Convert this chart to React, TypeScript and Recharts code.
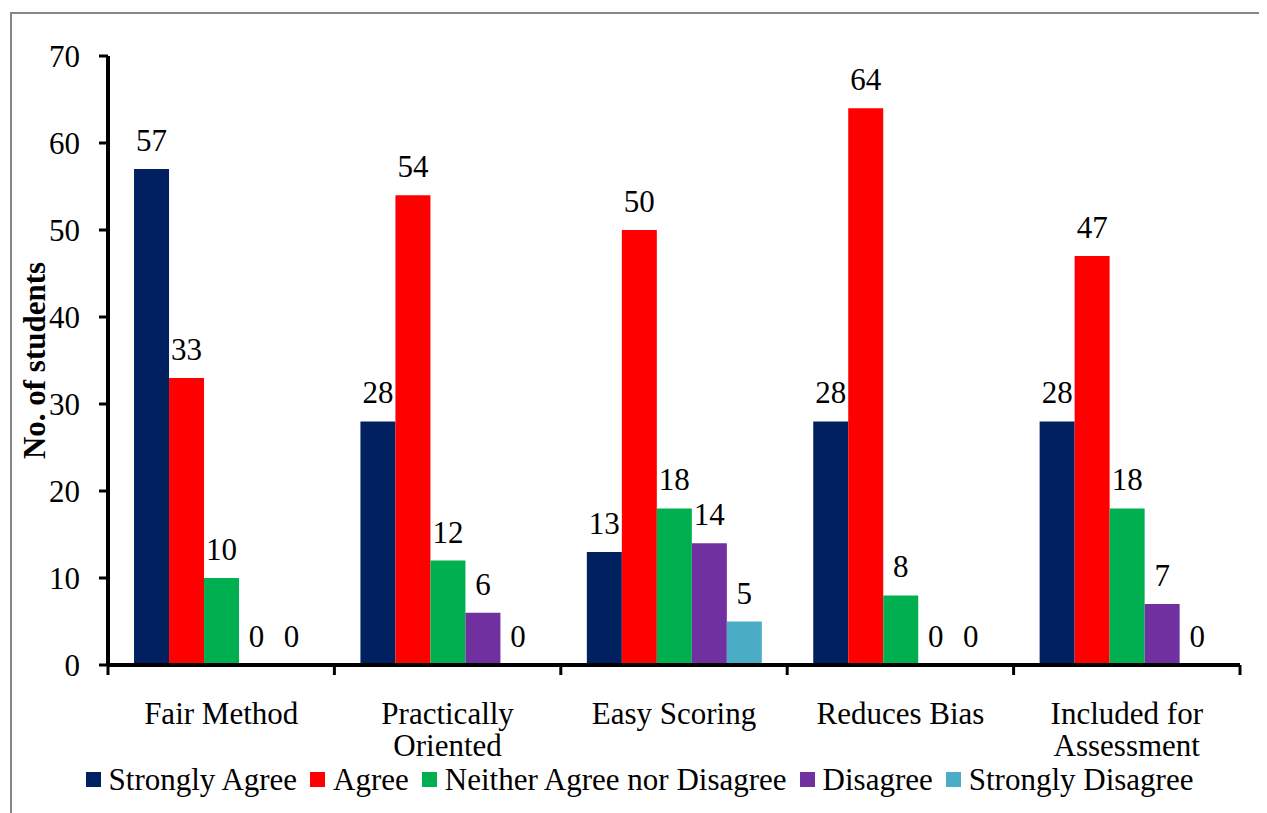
import React from 'react';
import { BarChart, Bar, XAxis, YAxis, Legend, LabelList } from 'recharts';

const categories = ['Fair Method', 'Practically\nOriented', 'Easy Scoring', 'Reduces Bias', 'Included for\nAssessment'];
const stronglyAgree = [57, 28, 13, 28, 28];
const agree = [33, 54, 50, 64, 47];
const neither = [10, 12, 18, 8, 18];
const disagree = [0, 6, 14, 0, 7];
const stronglyDisagree = [0, 0, 5, 0, 0];
const yTicks = [0, 10, 20, 30, 40, 50, 60, 70];

const seriesNames = ['Strongly Agree', 'Agree', 'Neither Agree nor Disagree', 'Disagree', 'Strongly Disagree'];
const seriesKeys = ['sa', 'a', 'n', 'd', 'sd'];
const seriesColors = ['#002060', '#FF0000', '#00B050', '#7030A0', '#4BACC6'];

const data = categories.map((c, i) => ({
  name: c,
  sa: stronglyAgree[i],
  a: agree[i],
  n: neither[i],
  d: disagree[i],
  sd: stronglyDisagree[i],
}));

const FONT = '"Liberation Serif", "Times New Roman", serif';
const FS = 31;

const CatTick = (props: any) => {
  const { x, y, payload, index, visibleTicksCount } = props;
  const off = payload.offset || 0;
  const isLast = index === visibleTicksCount - 1;
  const lines = String(payload.value).split('\n');
  return (
    <g>
      <line x1={x - off} x2={x - off} y1={y} y2={y + 10} stroke="#000" strokeWidth={3} />
      {isLast && <line x1={x + off} x2={x + off} y1={y} y2={y + 10} stroke="#000" strokeWidth={3} />}
      <text x={x} y={y + 59} textAnchor="middle" fontSize={FS} fontFamily={FONT} fill="#000">
        {lines.map((l, i) => (
          <tspan key={i} x={x} dy={i === 0 ? 0 : 32}>
            {l}
          </tspan>
        ))}
      </text>
    </g>
  );
};

const LegendContent = () => (
  <div
    style={{
      display: 'flex',
      justifyContent: 'center',
      alignItems: 'center',
      fontFamily: FONT,
      fontSize: FS,
      lineHeight: '31px',
      color: '#000',
      whiteSpace: 'nowrap',
    }}
  >
    {seriesNames.map((n, i) => (
      <div key={n} style={{ display: 'flex', alignItems: 'center', margin: '0 6.5px' }}>
        <span style={{ display: 'inline-block', width: 15, height: 15, background: seriesColors[i], marginRight: 8 }} />
        <span>{n}</span>
      </div>
    ))}
  </div>
);

export default function App() {
  return (
    <div
      style={{
        marginLeft: 2,
        marginTop: 4,
        borderTop: '2px solid #878787',
        borderLeft: '2px solid #878787',
        width: 1257,
        height: 810,
        background: '#fff',
      }}
    >
      <BarChart
        width={1255}
        height={795}
        data={data}
        margin={{ top: 42, right: 27, left: 0, bottom: 14 }}
        barCategoryGap="11.5%"
        barGap={0}
      >
        <XAxis
          dataKey="name"
          height={99}
          axisLine={{ stroke: '#000', strokeWidth: 4 }}
          tickLine={false}
          tickSize={0}
          tickMargin={0}
          interval={0}
          tick={<CatTick />}
        />
        <YAxis
          width={96}
          domain={[0, 70]}
          ticks={yTicks}
          interval={0}
          axisLine={{ stroke: '#000', strokeWidth: 4 }}
          tickLine={{ stroke: '#000', strokeWidth: 3 }}
          tickSize={9}
          tickMargin={19}
          tick={{ fontSize: FS, fontFamily: FONT, fill: '#000' }}
          label={{
            value: 'No. of students',
            angle: -90,
            position: 'insideLeft',
            offset: 22,
            style: { textAnchor: 'middle', fontSize: FS, fontFamily: FONT, fontWeight: 'bold', fill: '#000' },
          }}
        />
        <Legend
          verticalAlign="bottom"
          content={<LegendContent />}
          wrapperStyle={{ left: 0, width: 1255 }}
        />
        {seriesKeys.map((k, i) => (
          <Bar
            key={k}
            dataKey={k}
            name={seriesNames[i]}
            fill={seriesColors[i]}
            minPointSize={0.01}
            isAnimationActive={false}
          >
            <LabelList
              dataKey={k}
              position="top"
              offset={18}
              style={{ fontSize: FS, fontFamily: FONT, fill: '#000' }}
            />
          </Bar>
        ))}
      </BarChart>
    </div>
  );
}
